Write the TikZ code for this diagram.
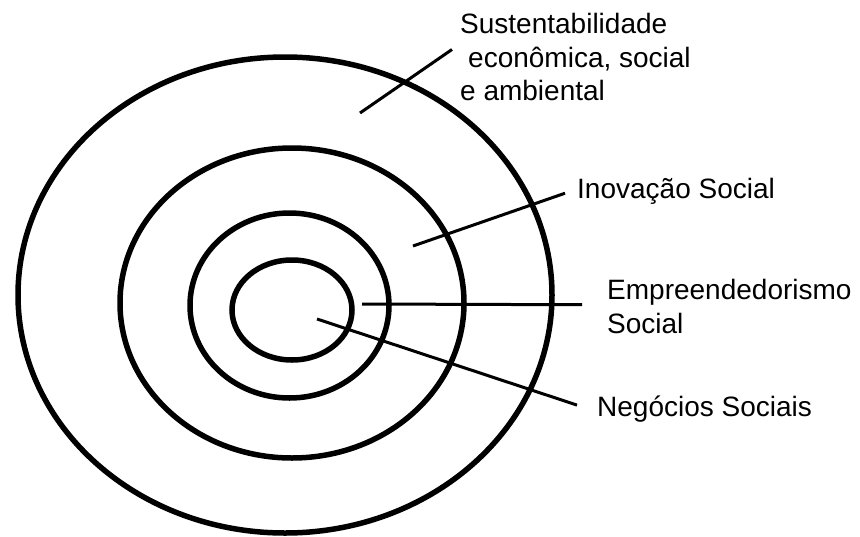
\documentclass[tikz,border=0pt]{standalone}
\usepackage{fontspec}
\setmainfont{Liberation Sans}
\usepackage{tikz}
\usetikzlibrary{positioning}

\begin{document}
\begin{tikzpicture}[x=1pt, y=-1pt,
        ring/.style={line width=5.5pt},
        pointer/.style={line width=3pt},
        lbl/.style={inner sep=0pt, align=left, font=\fontsize{28}{33.5}\selectfont}]
    \useasboundingbox (0, 0) rectangle (860, 536);
    % the four rings, outside in
    \foreach \cx/\cy/\rx/\ry in {285/295/267/238, 292/303/172/155, 289.5/305.5/99.5/92.5, 292/310/60/50} {
        \draw[ring] (\cx, \cy) ellipse [x radius=\rx pt, y radius=\ry pt];
    }

    \node[lbl, anchor=north west] (sust) at (460, 13.5) {Sustentabilidade\\\hspace*{8pt}econômica, social\\e ambiental};
    \node[lbl, anchor=base west] (inov) at (577, 198) {Inovação Social};
    \node[lbl, anchor=north west] (empr) at (607, 279.5) {Empreendedorismo\\Social};
    \node[lbl, anchor=base west] (neg) at (597, 416) {Negócios Sociais};

    \coordinate (sust-in) at (360, 113);
    \coordinate (inov-in) at (413, 246);
    \coordinate (empr-in) at (362, 304);
    \coordinate (neg-in) at (317, 319);

    \draw[pointer]
    (sust-in) -- ([xshift=-8pt, yshift=8pt]sust.west)
    (inov-in) -- ([xshift=-12pt, yshift=-2.4pt]inov.west)
    (empr-in) -- ([xshift=-25pt, yshift=2pt]empr.west)
    (neg-in) -- ([xshift=-20pt, yshift=3.5pt]neg.west);
\end{tikzpicture}
\end{document}
